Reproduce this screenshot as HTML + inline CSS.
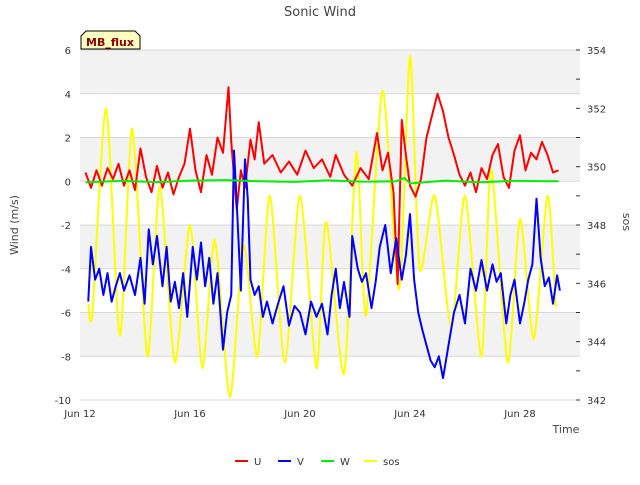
<!DOCTYPE html>
<html><head><meta charset="utf-8"><style>
body{margin:0;background:#fff;font-family:"Liberation Sans","DejaVu Sans",sans-serif;}
svg text{font-family:"DejaVu Sans","Liberation Sans",sans-serif;}
</style></head><body>
<svg id="chart" width="640" height="480" xmlns="http://www.w3.org/2000/svg">
<g id="bands"></g>
<g id="axes"></g>
<g id="series"></g>
<text x="320" y="16" text-anchor="middle" font-size="13" fill="#444">Sonic Wind</text>
<text x="18" y="225" text-anchor="middle" font-size="11" fill="#444" transform="rotate(-90 18 225)">Wind (m/s)</text>
<text x="623" y="222" text-anchor="middle" font-size="11" fill="#444" transform="rotate(90 623 222)">sos</text>
<text x="566" y="433" text-anchor="middle" font-size="11" fill="#444">Time</text>
<g>
<path d="M81,49 L81,36 L86,31 L135,31 L140,36 L140,49 Z" fill="#ffffc0" stroke="#000" stroke-width="1"/>
<text x="110" y="46" text-anchor="middle" font-size="11" font-weight="bold" fill="#8b0000">MB_flux</text>
</g>
<g id="legend"></g>
</svg>
<script>
const uDays=[12.2,12.4,12.6,12.8,13.0,13.2,13.4,13.6,13.8,14.0,14.2,14.4,14.6,14.8,15.0,15.2,15.4,15.6,15.8,16.0,16.2,16.4,16.6,16.8,17.0,17.2,17.4,17.5,17.7,17.85,18.0,18.2,18.35,18.5,18.7,19.0,19.3,19.6,19.9,20.2,20.5,20.8,21.1,21.3,21.6,21.9,22.2,22.5,22.8,23.0,23.2,23.4,23.55,23.7,23.85,24.0,24.2,24.4,24.6,24.8,25.0,25.2,25.4,25.6,25.8,26.0,26.2,26.4,26.6,26.8,27.0,27.2,27.4,27.6,27.8,28.0,28.2,28.4,28.6,28.8,29.0,29.2,29.4];
const uVals=[0.4,-0.3,0.5,-0.2,0.6,0.1,0.8,-0.2,0.5,-0.4,1.5,0.2,-0.5,0.7,-0.3,0.4,-0.6,0.2,0.8,2.4,0.5,-0.5,1.2,0.3,2.0,1.3,4.3,1.8,-1.3,0.5,-0.3,1.9,1.0,2.7,0.8,1.2,0.4,0.9,0.3,1.4,0.6,1.0,0.2,1.2,0.3,-0.2,0.6,0.1,2.2,0.5,1.3,-0.5,-4.7,2.8,1.2,-0.2,-0.7,0.1,2.0,3.0,4.0,3.2,2.0,1.2,0.3,-0.2,0.4,-0.5,0.6,0.1,1.2,1.7,0.2,-0.3,1.4,2.1,0.5,1.3,1.0,1.8,1.2,0.4,0.5];
const vDays=[12.3,12.4,12.55,12.7,12.85,13.0,13.15,13.3,13.45,13.6,13.8,14.0,14.2,14.35,14.5,14.65,14.8,15.0,15.15,15.3,15.45,15.6,15.75,15.9,16.1,16.25,16.4,16.55,16.7,16.85,17.0,17.2,17.35,17.5,17.6,17.7,17.85,18.0,18.1,18.2,18.35,18.5,18.65,18.8,19.0,19.2,19.4,19.6,19.8,20.0,20.2,20.4,20.6,20.8,21.0,21.15,21.3,21.45,21.6,21.8,21.9,22.1,22.25,22.4,22.6,22.75,22.9,23.1,23.3,23.5,23.7,23.85,24.0,24.15,24.3,24.45,24.6,24.75,24.9,25.05,25.2,25.4,25.6,25.8,26.0,26.2,26.4,26.6,26.8,27.0,27.15,27.3,27.5,27.65,27.8,28.0,28.15,28.3,28.45,28.6,28.75,28.9,29.05,29.2,29.35,29.45];
const vVals=[-5.5,-3.0,-4.5,-4.0,-5.2,-4.2,-5.5,-4.8,-4.2,-5.0,-4.3,-5.2,-3.5,-5.6,-2.2,-3.8,-2.5,-4.8,-3.0,-5.5,-4.6,-5.8,-4.2,-6.2,-3.0,-4.5,-2.8,-4.8,-3.5,-5.6,-4.2,-7.7,-6.0,-5.2,1.4,-1.0,-5.0,1.0,-0.8,-4.5,-5.2,-4.8,-6.2,-5.5,-6.5,-5.6,-4.8,-6.6,-5.7,-6.0,-7.0,-5.5,-6.2,-5.6,-7.0,-5.2,-4.0,-5.8,-4.6,-6.2,-2.5,-4.0,-4.6,-4.2,-5.8,-4.6,-3.0,-2.0,-4.2,-2.6,-4.5,-3.4,-1.5,-4.5,-6.0,-6.8,-7.5,-8.2,-8.5,-8.0,-9.0,-7.5,-6.0,-5.2,-6.5,-4.0,-5.0,-3.6,-5.0,-3.8,-4.6,-4.2,-6.5,-5.2,-4.5,-6.5,-5.6,-4.5,-3.8,-0.8,-3.5,-4.8,-4.4,-5.6,-4.3,-5.0];
const wDays=[12.2,13.5,14.8,16.0,17.3,18.5,19.8,21.0,22.3,23.5,23.8,24.0,25.3,26.5,27.8,29.0,29.4];
const wVals=[-0.05,0.02,-0.04,0.03,0.05,0.0,-0.03,0.04,-0.02,0.0,0.15,-0.1,0.03,-0.05,0.02,0.0,0.0];
const sDays=[12.3,12.45,12.95,13.45,13.9,14.45,14.9,15.45,16.0,16.45,16.9,17.45,17.95,18.45,18.9,19.45,20.0,20.6,20.95,21.6,22.05,22.4,23.0,23.6,24.0,24.35,24.9,25.5,26.0,26.6,26.95,27.55,28.0,28.5,29.0,29.3];
const sVals=[345.3,345.0,352.0,344.2,351.3,343.5,349.3,343.3,348.0,343.1,347.5,342.1,347.3,343.5,349.0,343.3,349.0,343.1,348.1,342.9,350.5,344.9,352.6,345.8,353.8,346.5,349.0,344.5,349.0,343.5,349.9,343.3,348.2,344.1,349.0,345.2];
const leftTicks=[6,4,2,0,-2,-4,-6,-8,-10];
const rightTicks=[354,352,350,348,346,344,342];
const xTickDays=[12,16,20,24,28];
const xTickLabels=["Jun 12","Jun 16","Jun 20","Jun 24","Jun 28"];

const NS="http://www.w3.org/2000/svg";
const L=80,R=580,T=50,B=400;
const xS=d=>L+(d-12)*27.5;
const yL=v=>T+(6-v)*(B-T)/16;
const yR=v=>T+(354-v)*(B-T)/12;
function mk(tag,attrs,parent){const e=document.createElementNS(NS,tag);for(const k in attrs)e.setAttribute(k,attrs[k]);parent.appendChild(e);return e;}
const bands=document.getElementById('bands'),axes=document.getElementById('axes'),series=document.getElementById('series'),legend=document.getElementById('legend');
for(let i=0;i<leftTicks.length-1;i++){
  const r=mk('rect',{x:L,y:yL(leftTicks[i]),width:R-L,height:yL(leftTicks[i+1])-yL(leftTicks[i]),fill:i%2===0?'#f2f2f2':'#ffffff'},bands);
  
  
}
leftTicks.forEach(v=>{
  const g=mk('line',{x1:L,x2:R,y1:yL(v),y2:yL(v),stroke:'#d8d8d8','stroke-width':1},axes);
  
  
  const t=mk('text',{x:L-9,y:yL(v)+4,'text-anchor':'end','font-size':10,fill:'#333'},axes);t.textContent=v;
  
  
});
for(let v=342;v<=354;v++){
  const tk=mk('line',{x1:R-4,x2:R,y1:yR(v),y2:yR(v),stroke:'#333'},axes);
  
  
}
rightTicks.forEach(v=>{
  const t=mk('text',{x:R+7,y:yR(v)+4,'font-size':10,fill:'#333'},axes);t.textContent=v;
  
  
});
xTickDays.forEach((d,i)=>{
  const t=mk('text',{x:xS(d),y:B+17,'text-anchor':'middle','font-size':10,fill:'#333'},axes);t.textContent=xTickLabels[i];
  
  
});
function path(days,vals,ys,color,name,smooth){
  const p=days.map((d,i)=>[xS(d),ys(vals[i])]);
  let d='M'+p[0][0]+','+p[0][1];
  for(let i=1;i<p.length;i++){
    if(smooth){const p0=p[i-2]||p[i-1],p1=p[i-1],p2=p[i],p3=p[i+1]||p[i];
      d+=' C'+(p1[0]+(p2[0]-p0[0])/8)+','+(p1[1]+(p2[1]-p0[1])/8)+' '+(p2[0]-(p3[0]-p1[0])/8)+','+(p2[1]-(p3[1]-p1[1])/8)+' '+p2[0]+','+p2[1];}
    else d+=' L'+p[i][0]+','+p[i][1];
  }
  const e=mk('path',{d:d,fill:'none',stroke:color,'stroke-width':2,'stroke-linejoin':'round'},series);
  
  
}
path(sDays,sVals,yR,'#ffff00','sos-line',true);
path(uDays,uVals,yL,'#ff0000','u-line',false);
path(vDays,vVals,yL,'#0000ff','v-line',false);
path(wDays,wVals,yL,'#00ee00','w-line',false);
const names=['U','V','W','sos'],cols=['#ff0000','#0000ff','#00ee00','#ffff00'],lx=[235,278,321,364];
names.forEach((n,i)=>{
  const l=mk('line',{x1:lx[i],x2:lx[i]+13,y1:461,y2:461,stroke:cols[i],'stroke-width':2},legend);
  
  
  const t=mk('text',{x:lx[i]+19,y:465,'font-size':10,fill:'#333'},legend);t.textContent=n;
  
  
});
</script>
</body></html>
